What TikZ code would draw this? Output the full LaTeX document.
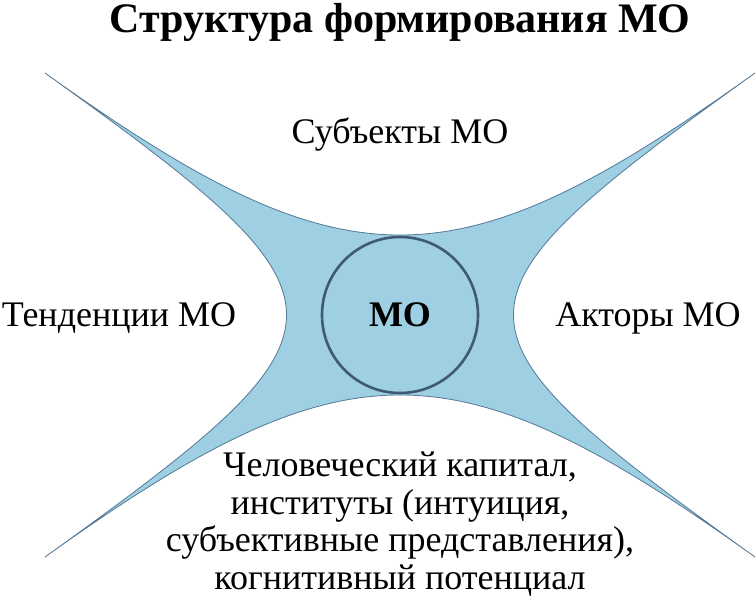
\documentclass[tikz,border=0pt]{standalone}
\usepackage{fontspec}
\setmainfont{Liberation Serif}
\definecolor{starBlue}{RGB}{158,207,227}
\definecolor{starEdge}{RGB}{84,120,150}
\definecolor{ringBlue}{RGB}{62,90,117}
\begin{document}
\begin{tikzpicture}
[x=1pt,y=-1pt,
labelText/.style={inner sep=0pt,align=center,font=\fontsize{36}{37.5}\selectfont},
ringNode/.style={circle,draw=ringBlue,fill=starBlue,line width=2.6pt,
inner sep=0pt,minimum size=156pt,font=\fontsize{36}{40}\selectfont\bfseries}]
  \useasboundingbox (0,0) rectangle (755,612);
  \coordinate (tlTip) at (45,73);
  \coordinate (trTip) at (755,73);
  \coordinate (brTip) at (755,557);
  \coordinate (blTip) at (45,557);
  \draw[draw=starEdge,fill=starBlue,line width=0.8pt,line join=miter,miter limit=100]
    (tlTip) .. controls (347,289) and (453,289) .. (trTip)
            .. controls (433,304) and (433,326) .. (brTip)
            .. controls (453,341) and (347,341) .. (blTip)
            .. controls (367,326) and (367,304) .. (tlTip) -- cycle;
  \node[ringNode] (moRing) at (400,315) {МО};
  \node[inner sep=0pt,font=\fontsize{42}{46}\selectfont\bfseries] (titleText) at (400,22) {Структура формирования МО};
  \node[labelText] (subjText) at (400,135) {Субъекты МО};
  \node[labelText] (tendText) at (119,318) {Тенденции МО};
  \node[labelText] (actText)  at (648,318) {Акторы МО};
  \node[labelText] (humanText) at (400,524)
    {Человеческий капитал,\\институты (интуиция,\\субъективные представления),\\когнитивный потенциал};
\end{tikzpicture}
\end{document}
